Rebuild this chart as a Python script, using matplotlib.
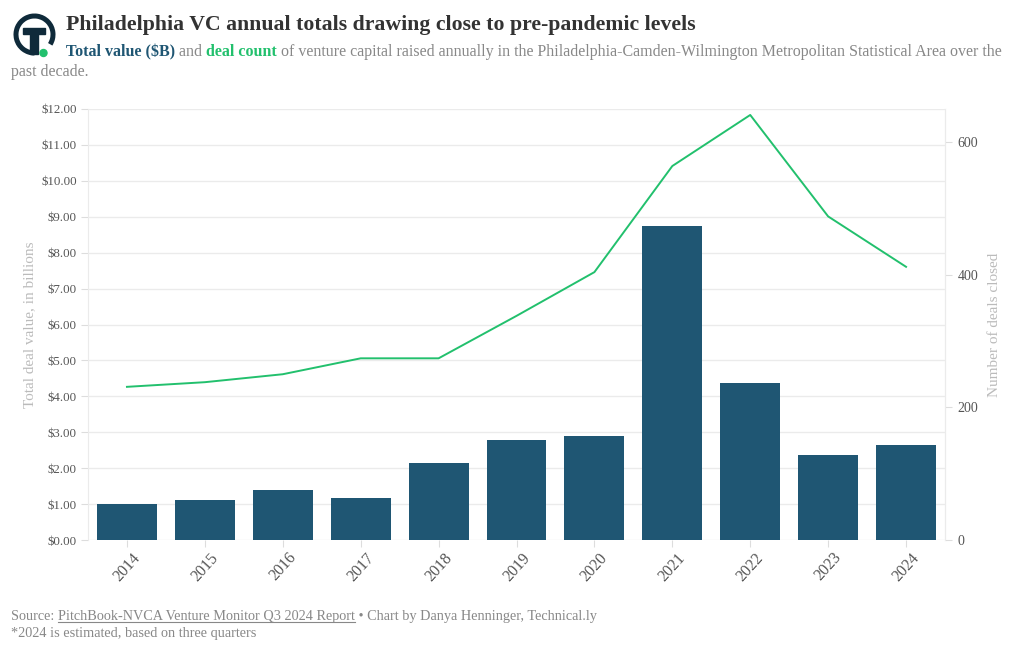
import matplotlib
matplotlib.use("Agg")
import matplotlib.pyplot as plt
from matplotlib.patches import Arc, Circle, Rectangle
from matplotlib.lines import Line2D

years = ["2014", "2015", "2016", "2017", "2018", "2019", "2020", "2021", "2022", "2023", "2024"]
total_value = [1.00, 1.11, 1.39, 1.17, 2.14, 2.78, 2.90, 8.75, 4.37, 2.37, 2.65]
deal_count = [231, 238, 250, 274, 274, 338, 404, 564, 641, 488, 412]
left_ticks = [0, 1, 2, 3, 4, 5, 6, 7, 8, 9, 10, 11, 12]
right_ticks = [0, 200, 400, 600]

FONT = "Liberation Serif"
plt.rcParams["font.family"] = [FONT, "DejaVu Serif"]

BAR = "#1f5673"
GREEN = "#22c06d"
TICKC = "#555555"
GRID = "#ebebeb"

W, H = 1020, 650
fig = plt.figure(figsize=(W / 100, H / 100), dpi=100)

def fx(px):
    return px / W

def fy(py):
    return 1 - py / H

ax = fig.add_axes([fx(88), fy(540), fx(945) - fx(88), fy(109) - fy(540)])
x = list(range(len(years)))
ax.bar(x, total_value, width=0.77, color=BAR, zorder=2)
ax.set_xlim(-0.5, len(years) - 0.5)
ax.set_ylim(0, 12)
ax.set_yticks(left_ticks)
ax.set_yticklabels([f"${v:.2f}" for v in left_ticks])
ax.set_xticks(x)
ax.set_xticklabels(years, rotation=48, ha="center")
ax.grid(axis="y", color=GRID, linewidth=1, zorder=0)
ax.set_axisbelow(True)
for s in ["top", "bottom"]:
    ax.spines[s].set_visible(False)
for s in ["left", "right"]:
    ax.spines[s].set_color(GRID)
ax.tick_params(axis="y", colors="#dddddd", labelcolor=TICKC, labelsize=9.3, length=5, pad=3)
ax.tick_params(axis="x", colors="#dddddd", labelcolor=TICKC, labelsize=11.5, length=5, pad=2)
ax.set_ylabel("Total deal value, in billions", color="#bbbbbb", fontsize=11, labelpad=3.7)

ax2 = ax.twinx()
ax2.plot(x, deal_count, color=GREEN, linewidth=1.4, zorder=3)
ax2.set_ylim(0, 650)
ax2.set_yticks(right_ticks)
ax2.set_yticklabels([str(v) for v in right_ticks])
for s in ["top", "bottom", "left"]:
    ax2.spines[s].set_visible(False)
ax2.spines["right"].set_color(GRID)
ax2.tick_params(axis="y", colors="#dddddd", labelcolor=TICKC, labelsize=10, length=5, pad=4)
ax2.set_ylabel("Number of deals closed", color="#bbbbbb", fontsize=11, labelpad=7)

# Logo (drawn in pixel-like units: x = px, y = -py)
lax = fig.add_axes([fx(8), fy(62), fx(62) - fx(8), fy(8) - fy(62)])
lax.set_xlim(8, 62)
lax.set_ylim(-62, -8)
lax.set_aspect("equal")
lax.axis("off")
NAVY = "#0f2a3a"
lax.add_patch(Arc((34.5, -34.5), 37, 37, theta1=-32, theta2=270, color=NAVY, linewidth=3.6))
lax.add_patch(Rectangle((23.3, -34.3), 21.7, 6.6, color=NAVY))
lax.add_patch(Rectangle((30, -54), 8.3, 25.5, color=NAVY))
lax.add_patch(Circle((43.5, -53), 3.5, color=GREEN))

# Title and subtitle
fig.text(fx(66), fy(30), "Philadelphia VC annual totals drawing close to pre-pandemic levels",
         fontsize=15.7, fontweight="bold", color="#333333", va="baseline")

renderer = fig.canvas.get_renderer()
parts = [("Total value ($B)", "#1f5673", "bold"),
         (" and ", "#888888", "normal"),
         ("deal count", GREEN, "bold"),
         (" of venture capital raised annually in the Philadelphia-Camden-Wilmington Metropolitan Statistical Area over the", "#888888", "normal")]
cx = 66
for txt, col, wt in parts:
    t = fig.text(fx(cx), fy(56), txt, fontsize=11.5, color=col, fontweight=wt, va="baseline")
    bb = t.get_window_extent(renderer=renderer)
    cx += bb.width
fig.text(fx(11), fy(76), "past decade.", fontsize=11.5, color="#888888", va="baseline")

# Footer
FOOT = "#888888"
cx = 11
foot_parts = [("Source: ", False), ("PitchBook-NVCA Venture Monitor Q3 2024 Report", True),
              (" \u2022 Chart by Danya Henninger, Technical.ly", False)]
for txt, ul in foot_parts:
    t = fig.text(fx(cx), fy(620), txt, fontsize=10.25, color=FOOT, va="baseline")
    bb = t.get_window_extent(renderer=renderer)
    if ul:
        fig.add_artist(Line2D([fx(cx), fx(cx + bb.width)], [fy(622), fy(622)], color=FOOT, linewidth=0.8))
    cx += bb.width
fig.text(fx(11), fy(637), "*2024 is estimated, based on three quarters", fontsize=10.25, color=FOOT, va="baseline")

fig.savefig("out.png", dpi=100, facecolor="white")
